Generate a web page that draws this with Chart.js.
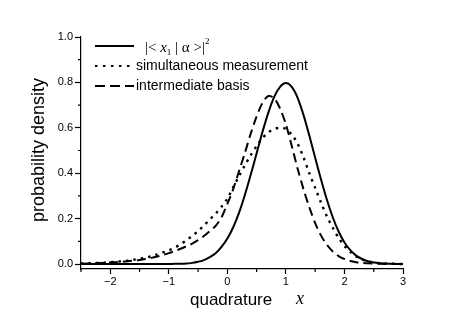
<!DOCTYPE html>
<html lang="en">
    <head>
        <meta charset="UTF-8">
        <title>probability density</title>
        <script src="https://cdn.jsdelivr.net/npm/chart.js@4.4.1/dist/chart.umd.min.js"></script>
        <style>
            body { margin: 0; background: #fff; }
            #box { width: 469px; height: 324px; position: relative; }
        </style>
    </head>
    <body>
        <div id="box">
            <canvas id="densityChart"></canvas>
        </div>

        <script>
            // quadrature values x = -2.5 ... 3.0, step 0.1
            const quadrature = [
                -2.5, -2.4, -2.3, -2.2, -2.1, -2.0, -1.9, -1.8, -1.7, -1.6,
                -1.5, -1.4, -1.3, -1.2, -1.1, -1.0, -0.9, -0.8, -0.7, -0.6,
                -0.5, -0.4, -0.3, -0.2, -0.1, 0.0, 0.1, 0.2, 0.3, 0.4,
                0.5, 0.6, 0.7, 0.8, 0.9, 1.0, 1.1, 1.2, 1.3, 1.4,
                1.5, 1.6, 1.7, 1.8, 1.9, 2.0, 2.1, 2.2, 2.3, 2.4,
                2.5, 2.6, 2.7, 2.8, 2.9, 3.0
            ]

            // |<x1|alpha>|^2
            const exactDensity = [
                0, 0, 0, 0, 0, 0, 0, 0, 0, 0,
                0, 0, 0, 0, 0, 0, 0.001, 0.001, 0.002, 0.005,
                0.010, 0.017, 0.030, 0.047, 0.075, 0.112, 0.162, 0.226, 0.305, 0.394,
                0.488, 0.582, 0.667, 0.736, 0.780, 0.797, 0.780, 0.732, 0.657, 0.566,
                0.468, 0.372, 0.283, 0.206, 0.143, 0.095, 0.061, 0.037, 0.022, 0.012,
                0.007, 0.003, 0.002, 0.001, 0, 0
            ]

            // simultaneous measurement
            const simultaneous = [
                0.002, 0.003, 0.004, 0.005, 0.006, 0.008, 0.010, 0.012, 0.015, 0.019,
                0.023, 0.028, 0.034, 0.042, 0.051, 0.060, 0.072, 0.086, 0.104, 0.124,
                0.145, 0.170, 0.196, 0.222, 0.252, 0.288, 0.338, 0.388, 0.435, 0.480,
                0.520, 0.555, 0.580, 0.595, 0.600, 0.595, 0.570, 0.530, 0.470, 0.400,
                0.335, 0.270, 0.210, 0.160, 0.115, 0.080, 0.053, 0.033, 0.020, 0.012,
                0.007, 0.004, 0.002, 0.001, 0, 0
            ]

            // intermediate basis
            const intermediate = [
                0.001, 0.002, 0.003, 0.004, 0.005, 0.007, 0.008, 0.010, 0.012, 0.015,
                0.018, 0.022, 0.027, 0.033, 0.040, 0.048, 0.057, 0.067, 0.078, 0.090,
                0.105, 0.123, 0.145, 0.168, 0.205, 0.265, 0.330, 0.410, 0.490, 0.575,
                0.650, 0.710, 0.740, 0.730, 0.685, 0.615, 0.520, 0.420, 0.330, 0.250,
                0.180, 0.125, 0.085, 0.055, 0.035, 0.022, 0.013, 0.008, 0.005, 0.003,
                0.002, 0.001, 0, 0, 0, 0
            ]

            const xTicks = [-2, -1, 0, 1, 2, 3]
            const yTicks = [0.0, 0.2, 0.4, 0.6, 0.8, 1.0]

            const pts = arr => arr.map((v, i) => ({x: quadrature[i], y: v}))

            // minor ticks, axis titles and the legend
            const decorations = {
                id: 'decorations',
                afterDraw(chart) {
                    const ctx = chart.ctx
                    const xs = chart.scales.x
                    const ys = chart.scales.y
                    const area = chart.chartArea
                    ctx.save()
                    ctx.strokeStyle = '#000'
                    ctx.lineWidth = 1.2
                    ctx.beginPath()
                    for (let v = -2.5; v <= 3.01; v += 1) {
                        const px = xs.getPixelForValue(v)
                        ctx.moveTo(px, area.bottom)
                        ctx.lineTo(px, area.bottom + 3)
                    }
                    for (let v = 0.1; v < 1.0; v += 0.2) {
                        const py = ys.getPixelForValue(v)
                        ctx.moveTo(area.left, py)
                        ctx.lineTo(area.left - 3, py)
                    }
                    ctx.stroke()

                    // axis titles
                    ctx.fillStyle = '#000'
                    ctx.textBaseline = 'middle'
                    ctx.textAlign = 'left'
                    ctx.font = '17px "Liberation Sans"'
                    ctx.fillText('quadrature', 190, 300)
                    ctx.font = 'italic 18px "Liberation Serif"'
                    ctx.fillText('x', 296, 299)
                    ctx.save()
                    ctx.translate(39, 150)
                    ctx.rotate(-Math.PI / 2)
                    ctx.textAlign = 'center'
                    ctx.font = '18px "Liberation Sans"'
                    ctx.fillText('probability density', 0, 0)
                    ctx.restore()

                    // legend
                    const rows = [
                        {y: 46, dash: []},
                        {y: 66, dash: [2.5, 5.5]},
                        {y: 86, dash: [10, 5]}
                    ]
                    rows.forEach(r => {
                        ctx.setLineDash(r.dash)
                        ctx.lineWidth = 2
                        ctx.beginPath()
                        ctx.moveTo(95, r.y)
                        ctx.lineTo(134, r.y)
                        ctx.stroke()
                    })
                    ctx.setLineDash([])

                    let cx = 145
                    const put = (t, font, dy) => {
                        ctx.font = font
                        ctx.fillText(t, cx, 48 + dy)
                        cx += ctx.measureText(t).width
                    }
                    put('|< ', '15px "Liberation Serif"', 0)
                    put('x', 'italic 15px "Liberation Serif"', 0)
                    put('1', '9px "Liberation Serif"', 5)
                    put(' | \u03b1 >|', '15px "Liberation Serif"', 0)
                    put('2', '9px "Liberation Serif"', -6)

                    ctx.font = '14px "Liberation Sans"'
                    ctx.fillText('simultaneous measurement', 136, 66)
                    ctx.fillText('intermediate basis', 136, 86)
                    ctx.restore()
                }
            }

            new Chart(document.getElementById('densityChart'), {
                type: 'line',
                data: {
                    datasets: [
                        {
                            label: '|<x1|\u03b1>|\u00b2',
                            data: pts(exactDensity),
                            borderColor: '#000',
                            borderWidth: 2
                        },
                        {
                            label: 'simultaneous measurement',
                            data: pts(simultaneous),
                            borderColor: '#000',
                            borderWidth: 2.4,
                            borderDash: [2.5, 5]
                        },
                        {
                            label: 'intermediate basis',
                            data: pts(intermediate),
                            borderColor: '#000',
                            borderWidth: 2,
                            borderDash: [9, 5]
                        }
                    ]
                },
                options: {
                    animation: false,
                    responsive: true,
                    maintainAspectRatio: false,
                    elements: {
                        point: {radius: 0},
                        line: {tension: 0.3, fill: false}
                    },
                    layout: {padding: {left: 0, top: 37, right: 66, bottom: 0}},
                    plugins: {legend: {display: false}, tooltip: {enabled: false}},
                    scales: {
                        x: {
                            type: 'linear',
                            min: -2.5,
                            max: 3,
                            afterFit: s => { s.height = 55 },
                            afterBuildTicks: s => { s.ticks = xTicks.map(v => ({value: v})) },
                            border: {display: true, color: '#000', width: 1.2},
                            grid: {drawOnChartArea: false, drawTicks: true, tickLength: 5, tickColor: '#000', tickWidth: 1.2},
                            ticks: {
                                color: '#000',
                                padding: 1,
                                maxRotation: 0,
                                font: {family: 'Liberation Sans', size: 11},
                                callback: v => String(v).replace('-', '\u2212')
                            }
                        },
                        y: {
                            min: -0.022,
                            max: 1.0,
                            afterFit: s => { s.width = 81 },
                            afterBuildTicks: s => { s.ticks = yTicks.map(v => ({value: v})) },
                            border: {display: true, color: '#000', width: 1.2},
                            grid: {drawOnChartArea: false, drawTicks: true, tickLength: 6, tickColor: '#000', tickWidth: 1.2},
                            ticks: {
                                color: '#000',
                                padding: 2,
                                font: {family: 'Liberation Sans', size: 11},
                                callback: v => v.toFixed(1)
                            }
                        }
                    }
                },
                plugins: [decorations]
            })
        </script>
    </body>
</html>
